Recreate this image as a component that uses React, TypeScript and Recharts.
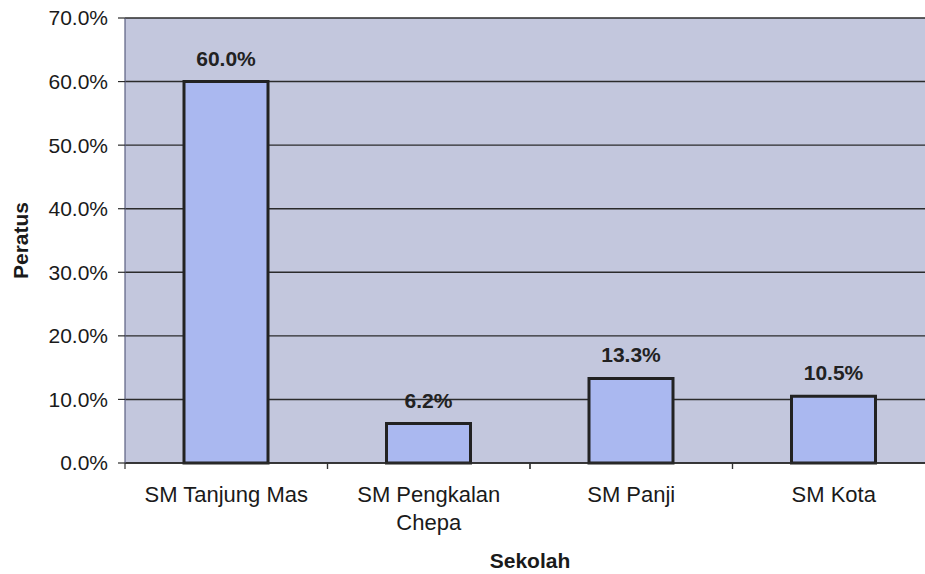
import React from 'react';
import { BarChart, Bar, XAxis, YAxis, CartesianGrid, LabelList, Label } from 'recharts';

const schools = ['SM Tanjung Mas', 'SM Pengkalan\nChepa', 'SM Panji', 'SM Kota'];
const percents = [60.0, 6.2, 13.3, 10.5];
const yTicks = [0, 10, 20, 30, 40, 50, 60, 70];

const data = schools.map((school, i) => ({ school, value: percents[i] }));

const FONT = '"Liberation Sans", Arial, sans-serif';
const CHART_W = 960;
const MARGIN = { top: 18, right: 25, left: 0, bottom: 0 };
const Y_W = 125;
const step = (CHART_W - MARGIN.right - Y_W) / schools.length;

function SchoolTick(props: any) {
  const { x, y, payload } = props;
  const axisY = y - 24;
  const lines = String(payload.value).split('\n');
  return (
    <g>
      <line x1={x - step / 2} x2={x - step / 2} y1={axisY} y2={axisY + 6} stroke="#333" strokeWidth={1.2} />
      <line x1={x + step / 2} x2={x + step / 2} y1={axisY} y2={axisY + 6} stroke="#333" strokeWidth={1.2} />
      <text x={x} y={y} textAnchor="middle" fontSize={22} fontFamily={FONT} fill="#1a1a1a">
        {lines.map((ln, i) => (
          <tspan key={i} x={x} dy={i === 0 ? 15 : 28}>
            {ln}
          </tspan>
        ))}
      </text>
    </g>
  );
}

function YTitle(props: any) {
  const { viewBox } = props;
  const cy = viewBox.y + viewBox.height / 2;
  return (
    <text
      x={20}
      y={cy}
      transform={`rotate(-90 20 ${cy})`}
      textAnchor="middle"
      dominantBaseline="central"
      fontSize={21}
      fontWeight="bold"
      fontFamily={FONT}
      fill="#1a1a1a"
    >
      Peratus
    </text>
  );
}

export default function App() {
  return (
    <div style={{ position: 'absolute', left: 0, top: 0, width: 925, height: 574, overflow: 'hidden', background: '#fff' }}>
      <BarChart width={CHART_W} height={574} data={data} margin={MARGIN} barSize={84}>
        <CartesianGrid vertical={false} fill="#c3c7dd" stroke="#2b2b2b" strokeWidth={1.4} />
        <XAxis
          dataKey="school"
          height={111}
          tickSize={0}
          tickMargin={24}
          tick={<SchoolTick />}
          axisLine={{ stroke: '#2b2b2b', strokeWidth: 1.6 }}
          interval={0}
        >
          <Label
            value="Sekolah"
            position="insideBottom"
            offset={6}
            fontSize={21}
            fontWeight="bold"
            fontFamily={FONT}
            fill="#1a1a1a"
          />
        </XAxis>
        <YAxis
          width={Y_W}
          domain={[0, 70]}
          ticks={yTicks}
          interval={0}
          tickFormatter={(v: number) => `${v.toFixed(1)}%`}
          tickSize={7}
          tickMargin={10}
          tick={{ fontSize: 21, fontFamily: FONT, fill: '#1a1a1a' }}
          tickLine={{ stroke: '#2b2b2b', strokeWidth: 1.2 }}
          axisLine={{ stroke: '#5a5f80', strokeWidth: 1.2 }}
        >
          <Label content={<YTitle />} />
        </YAxis>
        <Bar dataKey="value" fill="#aab8f0" stroke="#222" strokeWidth={3} isAnimationActive={false}>
          <LabelList
            dataKey="value"
            position="top"
            offset={16}
            formatter={(v: any) => `${Number(v).toFixed(1)}%`}
            style={{ fontSize: 21, fontWeight: 'bold', fontFamily: FONT, fill: '#222' }}
          />
        </Bar>
      </BarChart>
    </div>
  );
}
